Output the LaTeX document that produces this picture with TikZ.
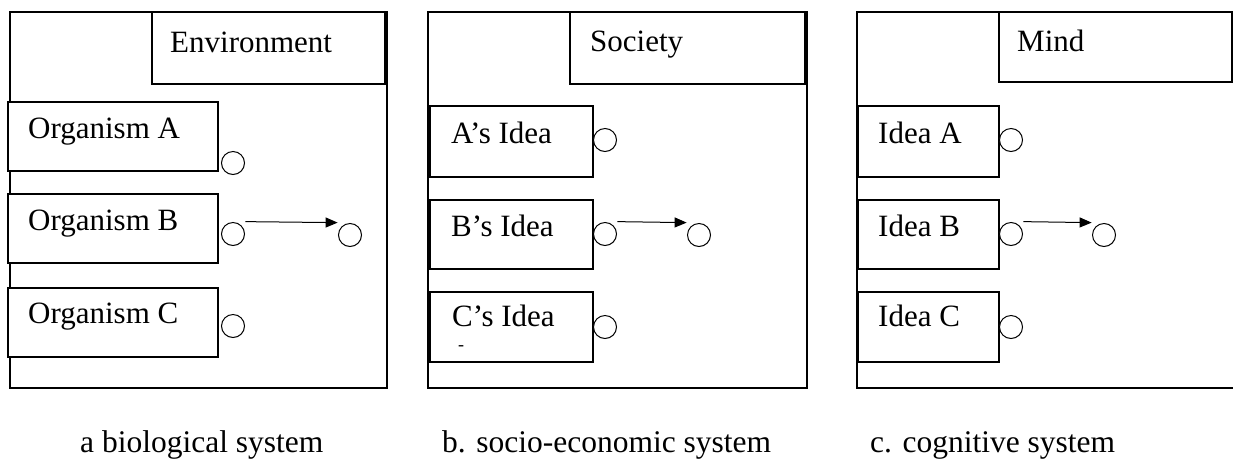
\documentclass[tikz,border=0pt]{standalone}
\usepackage{fontspec}
\setmainfont{Liberation Serif}
\usetikzlibrary{fit,arrows.meta}
\tikzset{
  bx/.style={draw=black, line width=1.2pt, fill=white, inner sep=0pt, rectangle},
  lbl/.style={anchor=base west, inner sep=0pt, font=\fontsize{31}{37}\selectfont},
  captxt/.style={anchor=base west, inner sep=0pt, font=\fontsize{31.5}{37}\selectfont},
  port/.style={draw=black, line width=1pt, circle, minimum size=23pt, inner sep=0pt, outer sep=6pt, fill=white},
  arr/.style={line width=1pt, -{Triangle[length=12pt,width=10pt]}}
}
\begin{document}
\begin{tikzpicture}[x=1pt,y=-1pt]
\useasboundingbox (0,0) rectangle (1233,459);
\clip (0,0) rectangle (1233,459);
% ---------- panel a ----------
\node[bx, fit={(10,12) (387,388)}] (outA) {};
\node[bx, fit={(152,12) (385,84)}] (envA) {};
\node[lbl] (tEnv) at (170,52) {Environment};
\node[bx, fit={(8,102) (218,171)}] (bA1) {};
\node[bx, fit={(8,194) (218,263)}] (bA2) {};
\node[bx, fit={(8,288) (218,357)}] (bA3) {};
\node[lbl] (tA1) at (28,138) {Organism A};
\node[lbl] (tA2) at (28,230) {Organism B};
\node[lbl] (tA3) at (28,323) {Organism C};
\node[port] (cA1) at (233,163) {};
\node[port] (cA2) at (233,234) {};
\node[port] (cA3) at (233,326) {};
\node[port] (cAT) at (350,235) {};
\draw[arr] (cA2.north east) -- (cAT.north west);
\node[captxt] (capA) at (80,452) {a biological system};
% ---------- panel b ----------
\node[bx, fit={(428,12) (807,388)}] (outB) {};
\node[bx, fit={(570,12) (805,84)}] (socB) {};
\node[lbl] (tSoc) at (590,51) {Society};
\node[bx, fit={(430,106) (593,177)}] (bB1) {};
\node[bx, fit={(430,200) (593,269)}] (bB2) {};
\node[bx, fit={(430,292) (593,362)}] (bB3) {};
\node[lbl] (tB1) at (451,143) {A’s Idea};
\node[lbl] (tB2) at (451,236) {B’s Idea};
\node[lbl] (tB3) at (452,326) {C’s Idea};
\node[anchor=center, inner sep=0pt, font=\fontsize{18}{20}\selectfont] (dash) at (461,348) {-};
\node[port] (cB1) at (605,140) {};
\node[port] (cB2) at (605,234) {};
\node[port] (cB3) at (605,327) {};
\node[port] (cBT) at (699,235) {};
\draw[arr] (cB2.north east) -- (cBT.north west);
\node[captxt] (capB) at (442,452) {b. socio-economic system};
% ---------- panel c ----------
\node[bx, fit={(857,12) (1250,388)}] (outC) {};
\node[bx, fit={(999,12) (1232,82)}] (mindC) {};
\node[lbl] (tMind) at (1017,51) {Mind};
\node[bx, fit={(858,106) (999,177)}] (bC1) {};
\node[bx, fit={(858,200) (999,269)}] (bC2) {};
\node[bx, fit={(858,292) (999,362)}] (bC3) {};
\node[lbl] (tC1) at (878,143) {Idea A};
\node[lbl] (tC2) at (878,236) {Idea B};
\node[lbl] (tC3) at (878,326) {Idea C};
\node[port] (cC1) at (1011,140) {};
\node[port] (cC2) at (1011,234) {};
\node[port] (cC3) at (1011,327) {};
\node[port] (cCT) at (1104,235) {};
\draw[arr] (cC2.north east) -- (cCT.north west);
\node[captxt] (capC) at (870,452) {c. cognitive system};
\end{tikzpicture}
\end{document}
